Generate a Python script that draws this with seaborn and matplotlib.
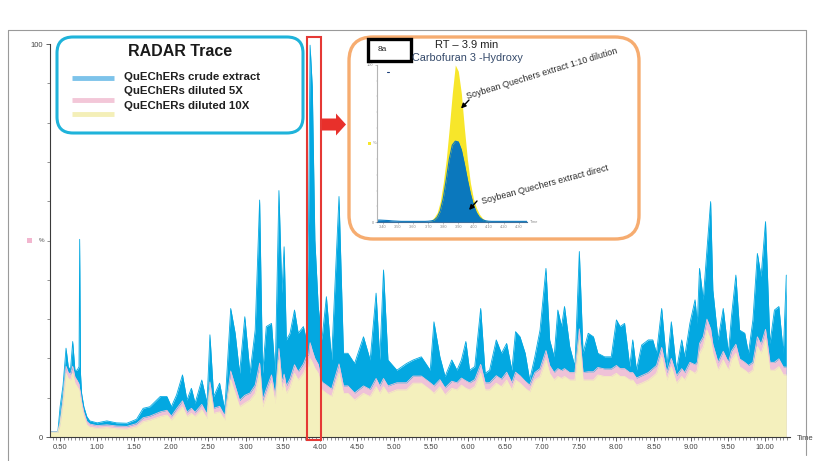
import numpy as np
import pandas as pd
import matplotlib
matplotlib.use("Agg")
import matplotlib.pyplot as plt
import seaborn as sns
from matplotlib.patches import FancyBboxPatch, Rectangle, Polygon
from matplotlib.ticker import MultipleLocator, FixedLocator

# ---------------------------------------------------------------- data
# Retention time (min) and relative intensity (%) of the three RADAR traces
rt = [0.36, 0.47, 0.50, 0.54, 0.58, 0.61, 0.64, 0.67, 0.70, 0.73, 0.755, 0.764, 0.775, 0.79,
      0.82, 0.86, 0.90, 1.00, 1.13, 1.26, 1.40, 1.53, 1.62, 1.71, 1.85, 1.94, 2.00, 2.07,
      2.15, 2.21, 2.27, 2.32, 2.41, 2.48, 2.52, 2.57, 2.65, 2.72, 2.80, 2.86, 2.92, 2.99,
      3.06, 3.13, 3.19, 3.23, 3.28, 3.35, 3.40, 3.45, 3.49, 3.52, 3.55, 3.60, 3.66, 3.71,
      3.78, 3.82, 3.85, 3.87, 3.90, 3.935, 3.98, 4.03, 4.09, 4.16, 4.26, 4.32, 4.38, 4.47,
      4.59, 4.68, 4.76, 4.81, 4.86, 4.92, 5.04, 5.17, 5.26, 5.37, 5.49, 5.54, 5.62, 5.69,
      5.78, 5.85, 5.91, 5.97, 6.02, 6.09, 6.17, 6.23, 6.29, 6.38, 6.45, 6.52, 6.59, 6.64,
      6.70, 6.77, 6.83, 6.90, 6.97, 7.05, 7.10, 7.16, 7.21, 7.26, 7.30, 7.37, 7.44, 7.50,
      7.55, 7.62, 7.69, 7.75, 7.84, 7.93, 8.00, 8.05, 8.11, 8.18, 8.22, 8.27, 8.34, 8.43,
      8.49, 8.54, 8.61, 8.68, 8.74, 8.81, 8.88, 8.92, 8.99, 9.06, 9.09, 9.12, 9.17, 9.22,
      9.27, 9.30, 9.37, 9.44, 9.51, 9.55, 9.61, 9.66, 9.73, 9.78, 9.84, 9.90, 9.95, 10.01,
      10.07, 10.13, 10.19, 10.25, 10.29]

crude = [1.4, 1.4, 7.7, 13.2, 22.6, 17.9, 17.0, 24.3, 17.0, 17.0, 17.9, 50.3, 16.2, 11.1,
         7.7, 5.2, 4.1, 3.6, 4.1, 3.6, 3.5, 4.5, 7.3, 7.7, 10.3, 10.3, 7.7, 10.7,
         15.8, 9.4, 12.4, 8.6, 14.5, 8.6, 26.0, 10.3, 13.7, 6.9, 32.7, 26.4, 16.2, 30.6,
         16.2, 27.2, 60.3, 16.2, 28.1, 28.9, 16.2, 62.7, 36.6, 48.4, 24.7, 26.4, 32.3, 26.4,
         28.1, 24.7, 55.0, 99.7, 89.1, 50.1, 33.2, 24.7, 35.7, 19.6, 61.2, 21.3, 21.3, 18.7,
         25.5, 19.6, 36.6, 19.6, 42.5, 19.6, 17.0, 18.7, 19.6, 20.4, 17.0, 29.3, 20.4, 15.4,
         19.6, 17.0, 19.6, 24.3, 17.0, 17.9, 32.7, 16.2, 17.0, 24.7, 21.3, 23.8, 17.0, 26.8,
         25.5, 21.3, 14.5, 20.4, 27.2, 42.9, 24.7, 20.4, 32.3, 28.1, 33.2, 23.0, 17.9, 47.2,
         21.3, 26.4, 25.5, 21.3, 20.4, 20.4, 29.8, 28.1, 28.9, 17.9, 24.7, 17.0, 23.4, 24.7,
         24.7, 21.3, 32.7, 17.9, 29.3, 17.0, 24.7, 20.4, 28.9, 34.9, 28.9, 42.9, 34.9, 47.6,
         59.9, 37.4, 24.7, 32.7, 21.3, 30.6, 41.2, 27.2, 26.4, 21.3, 29.8, 46.7, 40.8, 54.8,
         23.8, 32.3, 33.2, 21.3, 41.2]

diluted_5x = [1.3, 1.3, 3.8, 10.0, 18.0, 16.4, 16.0, 18.0, 15.3, 14.4, 13.5, 12.2, 11.3, 9.0,
              6.3, 4.0, 3.3, 2.9, 3.1, 2.8, 2.7, 3.4, 4.9, 5.3, 6.4, 6.8, 5.3, 7.2,
              9.2, 6.3, 7.3, 6.3, 8.3, 5.8, 14.0, 7.3, 7.8, 5.4, 16.8, 13.0, 9.3, 10.6,
              11.2, 13.2, 18.8, 9.4, 12.2, 15.8, 10.4, 22.5, 14.0, 16.0, 13.0, 14.8, 18.4, 16.6,
              18.6, 20.5, 21.0, 24.0, 22.0, 20.0, 18.5, 14.0, 13.2, 12.2, 18.6, 13.0, 13.0, 11.2,
              13.0, 12.1, 14.9, 13.0, 14.9, 13.0, 13.8, 13.8, 15.5, 15.5, 13.8, 13.0, 14.6, 12.5,
              14.2, 13.8, 15.0, 14.3, 13.8, 14.6, 18.5, 13.8, 13.8, 15.6, 14.7, 16.5, 13.8, 16.5,
              15.6, 14.2, 13.2, 16.4, 17.4, 22.0, 18.2, 16.4, 17.4, 16.9, 17.4, 16.4, 16.4, 27.5,
              16.4, 16.6, 16.6, 17.7, 17.3, 17.3, 18.2, 17.4, 17.4, 16.4, 16.4, 15.0, 15.6, 16.4,
              17.4, 18.2, 22.8, 16.4, 20.0, 15.6, 17.4, 16.4, 19.0, 18.4, 19.0, 23.8, 25.5, 30.0,
              27.5, 23.6, 19.0, 21.8, 19.0, 21.8, 23.6, 19.9, 19.0, 18.2, 19.0, 25.5, 23.6, 27.4,
              19.0, 19.0, 19.9, 17.8, 17.8]

diluted_10x = [1.2, 1.2, 3.1, 8.6, 16.2, 14.9, 14.5, 16.2, 13.7, 12.8, 12.0, 10.3, 9.8, 7.7,
               5.2, 3.1, 2.5, 2.2, 2.4, 2.1, 2.0, 2.6, 3.9, 4.3, 5.2, 5.6, 4.3, 6.0,
               7.7, 5.2, 6.0, 5.2, 6.9, 4.7, 12.0, 6.0, 6.4, 4.3, 14.5, 11.1, 7.7, 8.6,
               9.4, 11.1, 16.2, 7.7, 10.3, 13.7, 8.6, 19.6, 12.0, 13.7, 11.1, 12.8, 16.2, 14.5,
               16.2, 17.9, 18.0, 20.0, 19.0, 17.5, 16.2, 12.0, 11.1, 10.3, 16.2, 11.1, 11.1, 9.4,
               11.1, 10.3, 12.8, 11.1, 12.8, 11.1, 12.0, 12.0, 13.7, 13.7, 12.0, 11.1, 12.8, 10.7,
               12.4, 12.0, 13.2, 12.4, 12.0, 12.8, 16.2, 12.0, 12.0, 13.7, 12.8, 14.5, 12.0, 14.5,
               13.7, 12.4, 11.5, 14.5, 15.4, 19.6, 16.2, 14.5, 15.4, 14.9, 15.4, 14.5, 14.5, 24.7,
               14.5, 14.5, 14.5, 15.8, 15.4, 15.4, 16.2, 15.4, 15.4, 14.5, 14.5, 13.2, 13.7, 14.5,
               15.4, 16.2, 20.4, 14.5, 17.9, 13.7, 15.4, 14.5, 17.0, 16.2, 17.0, 21.3, 23.0, 27.2,
               24.7, 21.3, 17.0, 19.6, 17.0, 19.6, 21.3, 17.9, 17.0, 16.2, 17.0, 23.0, 21.3, 24.7,
               17.0, 17.0, 17.9, 15.8, 15.8]

trace_names = ["QuEChERs crude extract", "QuEChERs diluted 5X", "QuEChERs diluted 10X"]
fill_colors = ["#03A8E1", "#EFC2D8", "#F4F0BD"]
legend_colors = ["#7DC3EA", "#F3C7D8", "#F4EFB8"]

# Extracted window around RT 3.9 min (Carbofuran 3-Hydroxy)
rt_zoom = [3.36, 3.38, 3.40, 3.42, 3.44, 3.46, 3.48, 3.50, 3.52, 3.54, 3.56, 3.58, 3.60,
           3.62, 3.64, 3.66, 3.68, 3.70, 3.72, 3.74, 3.76, 3.78, 3.80, 3.82, 3.84, 3.86,
           3.88, 3.90, 3.92, 3.94, 3.96, 3.98, 4.00, 4.02, 4.04, 4.06, 4.08, 4.10, 4.12,
           4.14, 4.16, 4.18, 4.20, 4.22, 4.24, 4.26, 4.28, 4.30, 4.32, 4.34, 4.36]
extract_direct = [1.2, 1.2, 1.1, 1.0, 0.9, 0.7, 0.6, 0.5, 0.4, 0.4, 0.4, 0.4, 0.4,
                  0.4, 0.4, 0.4, 0.4, 0.5, 0.7, 1.2, 3.0, 7.0, 15.0, 27.0, 40.0, 49.0,
                  51.5, 51.0, 46.0, 37.0, 27.0, 18.0, 11.0, 6.0, 3.0, 1.5, 0.8, 0.5, 0.4,
                  0.4, 0.4, 0.4, 0.4, 0.4, 0.4, 0.4, 0.4, 0.4, 0.4, 0.4, 0.4]
extract_1_10 = [0, 0, 0, 0, 0, 0, 0, 0, 0, 0, 0, 0, 0,
                0, 0, 0, 0, 0, 1.0, 3.0, 6.0, 13.0, 25.0, 40.0, 60.0, 82.0,
                100.0, 96.0, 82.0, 60.0, 40.0, 25.0, 15.0, 9.0, 5.0, 2.5, 1.0, 0.4, 0,
                0, 0, 0, 0, 0, 0, 0, 0, 0, 0, 0, 0]
main_ticks = [0.5 * k for k in range(1, 21)]
zoom_ticks = [3.40, 3.50, 3.60, 3.70, 3.80, 3.90, 4.00, 4.10, 4.20, 4.30]

# ---------------------------------------------------------------- figure
sns.set_theme(style="white")
plt.rcParams["font.family"] = ["Liberation Sans", "DejaVu Sans"]

W, H = 816, 461
fig = plt.figure(figsize=(W / 100, H / 100), dpi=100)
fig.patch.set_facecolor("white")


def box(x0, y0, x1, y1):
    """Pixel rectangle (origin top-left) -> figure fraction [l, b, w, h]."""
    return [x0 / W, 1 - y1 / H, (x1 - x0) / W, (y1 - y0) / H]


# main chromatogram
ax = fig.add_axes(box(50, 44, 790, 437))
ax.set_zorder(0)
long = pd.DataFrame({
    "rt": rt * 3,
    "pct": crude + diluted_5x + diluted_10x,
    "trace": [n for n in trace_names for _ in rt],
})
for name, color in zip(trace_names, fill_colors):
    vals = long.loc[long.trace == name, "pct"].to_numpy()
    ax.fill_between(rt, 0, vals, color=color, lw=0)
sns.lineplot(data=long, x="rt", y="pct", hue="trace", palette=dict(zip(trace_names, fill_colors)),
             estimator=None, sort=False, legend=False, lw=0.6, ax=ax)
ax.set_xlim(0.364, 10.34)
ax.set_ylim(0, 100)
ax.set_xlabel("")
ax.set_ylabel("")
for s in ["top", "right"]:
    ax.spines[s].set_visible(False)
for s in ["left", "bottom"]:
    ax.spines[s].set_color("#3a3a3a")
    ax.spines[s].set_linewidth(0.8)
ax.set_xticks(main_ticks)
ax.set_xticklabels([f"{v:.2f}" for v in main_ticks])
ax.xaxis.set_minor_locator(MultipleLocator(0.05))
ax.set_yticks([0, 100])
ax.set_yticklabels(["0", "100"])
ax.yaxis.set_minor_locator(FixedLocator(list(range(10, 100, 10))))
ax.tick_params(axis="both", which="major", direction="out", length=3, width=0.6,
               color="#444", labelsize=5.5, labelcolor="#444", pad=2,
               bottom=True, left=True)
ax.tick_params(axis="both", which="minor", direction="out", length=2, width=0.5,
               color="#666", bottom=True, left=True)
ax.grid(False)

# background overlay (pixel coordinates) for framed boxes
bg = fig.add_axes([0, 0, 1, 1])
bg.set_zorder(1)
bg.set_xlim(0, W)
bg.set_ylim(H, 0)
bg.axis("off")

# outer frame
bg.plot([8, 8], [30, 461], color="#9a9a9a", lw=0.8)
bg.plot([8, 806], [30, 30], color="#9a9a9a", lw=0.8)
bg.plot([806, 806], [30, 455], color="#9a9a9a", lw=0.8)

# legend box
bg.add_patch(FancyBboxPatch((57, 37), 246, 96, boxstyle="round,pad=0,rounding_size=16",
                            ec="#1FB3DA", fc="white", lw=2.2))
bg.text(180, 52, "RADAR Trace", ha="center", va="center", fontsize=11.5,
        fontweight="bold", color="#1a1a1a")
for (ly, ty), name, c in zip([(78, 77), (100, 91.5), (114, 106)], trace_names, legend_colors):
    bg.plot([72, 114], [ly, ly], color=c, lw=3.5, solid_capstyle="butt")
    bg.text(124, ty, name, ha="left", va="center", fontsize=8.2, fontweight="bold",
            color="#1f1f1f")

# inset frame
bg.add_patch(FancyBboxPatch((349, 37), 290, 202, boxstyle="round,pad=0,rounding_size=24",
                            ec="#F6AC70", fc="white", lw=2.4))

# inset chromatogram
ins = fig.add_axes(box(377, 65, 527, 222))
ins.set_zorder(2)
ins.patch.set_alpha(0)
ins.fill_between(rt_zoom, 0, extract_1_10, color="#F7E62A", lw=0)
ins.fill_between(rt_zoom, 0, extract_direct, color="#0B78BD", lw=0)
sns.lineplot(x=rt_zoom, y=extract_direct, color="#0B78BD", lw=0.8, ax=ins)
ins.set_xlim(3.36, 4.356)
ins.set_ylim(0, 100)
for s in ["top", "right"]:
    ins.spines[s].set_visible(False)
ins.spines["left"].set_color("#b5b5b5")
ins.spines["left"].set_linewidth(0.8)
ins.spines["bottom"].set_color("#3d6f9c")
ins.spines["bottom"].set_linewidth(0.8)
ins.set_xticks(zoom_ticks)
ins.set_xticklabels([f"{v:.2f}" for v in zoom_ticks])
ins.xaxis.set_minor_locator(MultipleLocator(0.02))
ins.set_yticks([0, 100])
ins.set_yticklabels(["0", "100"])
ins.yaxis.set_minor_locator(FixedLocator(list(range(10, 100, 10))))
ins.tick_params(axis="both", which="major", direction="out", length=1.5, width=0.4,
                color="#999", labelsize=2.8, labelcolor="#888", pad=1,
                bottom=True, left=True)
ins.tick_params(axis="both", which="minor", direction="out", length=1, width=0.3,
                color="#bbb", bottom=True, left=True)
ins.grid(False)

# foreground overlay for labels, callouts and markers
fg = fig.add_axes([0, 0, 1, 1])
fg.set_zorder(3)
fg.set_xlim(0, W)
fg.set_ylim(H, 0)
fg.axis("off")

fg.text(797, 438, "Time", ha="left", va="center", fontsize=5.5, color="#444")
fg.add_patch(Rectangle((26.5, 237.5), 5, 5, fc="#F2B6CF", ec="none"))
fg.text(42, 240, "%", ha="center", va="center", fontsize=4.5, color="#555")

fg.text(530, 222, "Time", ha="left", va="center", fontsize=2.8, color="#888")
fg.add_patch(Rectangle((367.5, 141.5), 3, 3, fc="#F7E62A", ec="none"))
fg.text(375, 143, "%", ha="center", va="center", fontsize=2.8, color="#888")
fg.plot([386.5, 389], [72.5, 72.5], color="#1B3F7A", lw=0.8)

# selected peak window and pointer to the inset
fg.add_patch(Rectangle((307, 37), 14, 403, fill=False, ec="#E53935", lw=1.5))
fg.add_patch(Polygon([(322, 118.5), (336, 118.5), (336, 113.5), (346, 124.5),
                      (336, 135.5), (336, 130.5), (322, 130.5)],
                     closed=True, fc="#E8302B", ec="none"))

# inset labelling
fg.add_patch(Rectangle((368, 39), 43, 22, fill=False, ec="black", lw=2.4))
fg.text(382, 49.5, "8a", ha="center", va="center", fontsize=6, color="#222")
fg.text(467, 45, "RT \u2013 3.9 min", ha="center", va="center", fontsize=8, color="#222")
fg.text(467, 58, "Carbofuran 3 -Hydroxy", ha="center", va="center", fontsize=7.8,
        color="#34496A")

fg.text(467, 99, "Soybean Quechers extract 1:10 dilution", rotation=17,
        rotation_mode="anchor", ha="left", va="baseline", fontsize=6.4, color="#2a2a2a")
fg.annotate("", xy=(461, 108.5), xytext=(469, 100),
            arrowprops=dict(arrowstyle="-|>", color="black", lw=1, mutation_scale=7,
                            shrinkA=0, shrinkB=0))
fg.text(482, 204, "Soybean Quechers extract direct", rotation=15,
        rotation_mode="anchor", ha="left", va="baseline", fontsize=6.4, color="#2a2a2a")
fg.annotate("", xy=(469, 210), xytext=(477, 201),
            arrowprops=dict(arrowstyle="-|>", color="black", lw=1, mutation_scale=7,
                            shrinkA=0, shrinkB=0))

fig.savefig("out.png", dpi=100, facecolor="white")
